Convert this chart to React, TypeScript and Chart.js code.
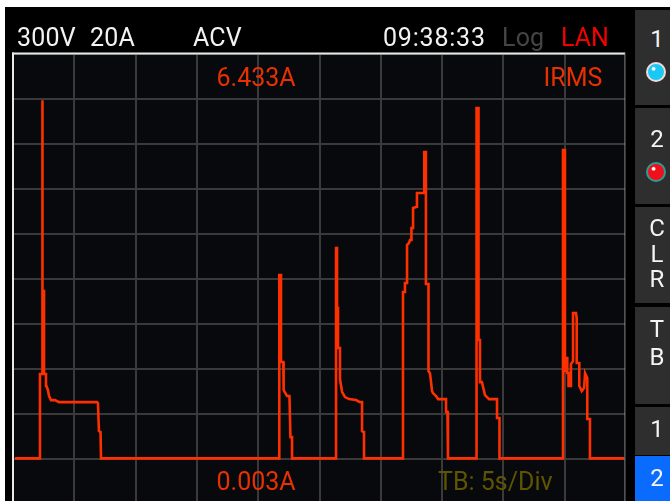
import React, { useEffect, useRef } from "react";
import { Chart, registerables } from "chart.js";

Chart.register(...registerables);

const pulse1 = [
  [0.16, 0.003], [2.2, 0.003], [2.2, 1.516], [2.37, 1.516], [2.37, 6.433], [2.42, 6.433], [2.42, 3.007], [2.53, 3.007], [2.53, 1.516], [2.69, 1.516], [2.69, 1.301], [2.73, 1.301],
  [2.85, 1.229], [2.94, 1.121], [3.1, 1.049], [3.43, 1.049], [3.75, 1.013], [6.85, 1.013], [6.93, 0.995], [7.01, 0.492], [7.14, 0.474], [7.18, 0.003],
];
const pulse2 = [
  [21.72, 0.003], [21.72, 3.294], [21.86, 3.294], [21.86, 1.732], [22.05, 1.732], [22.05, 1.283], [22.1, 1.229], [22.35, 1.121], [22.55, 1.121], [22.63, 0.384], [22.76, 0.384], [22.76, 0.003],
];
const pulse3 = [
  [26.35, 0.003], [26.35, 3.779], [26.43, 3.779], [26.43, 2.702], [26.51, 2.702], [26.51, 1.983], [26.67, 1.983], [26.67, 1.426], [26.84, 1.198], [27.08, 1.103], [27.41, 1.067],
  [27.98, 1.049], [28.3, 1.013], [28.47, 1.013], [28.47, 0.492], [28.59, 0.474], [28.63, 0.474], [28.63, 0.003],
];
const pulse4 = [
  [31.81, 0.003], [31.81, 2.989], [31.97, 2.989], [31.97, 3.151], [32.14, 3.151], [32.14, 3.833], [32.3, 3.87], [32.38, 3.923], [32.5, 3.923], [32.5, 4.139], [32.63, 4.139], [32.63, 4.498],
  [32.95, 4.521], [32.95, 4.767], [33.55, 4.767], [33.55, 5.504], [33.68, 5.504], [33.68, 3.133], [33.89, 3.133], [33.89, 1.57], [34.01, 1.53], [34.09, 1.39], [34.18, 1.211], [34.26, 1.175],
  [34.5, 1.121], [34.67, 1.067], [35.32, 1.067], [35.32, 0.839], [35.44, 0.839], [35.48, 0.003],
];
const pulse5 = [
  [37.81, 0.003], [37.81, 6.294], [37.97, 6.294], [37.97, 2.127], [38.09, 2.127], [38.09, 1.372], [38.25, 1.372], [38.34, 1.283], [38.5, 1.139], [38.83, 1.067], [39.48, 1.067], [39.48, 0.726],
  [39.68, 0.726], [39.68, 0.003],
];
const pulse6 = [
  [44.86, 0.003], [44.86, 5.54], [45.02, 5.54], [45.02, 1.552], [45.11, 1.803], [45.21, 1.803], [45.21, 1.534], [45.31, 1.534], [45.31, 1.301], [45.51, 1.301], [45.51, 1.696], [45.68, 1.75],
  [45.68, 2.612], [45.92, 2.612], [45.98, 2.522], [45.98, 1.714], [46.19, 1.714], [46.19, 1.301], [46.39, 1.211], [46.58, 1.265], [46.66, 1.534], [46.84, 1.444], [46.84, 0.708], [47.06, 0.708],
  [47.06, 0.003], [49.84, 0.003],
];

const timeGrid = [0, 5, 10, 15, 20, 25, 30, 35, 40, 45, 50];
const ampGrid = [-0.808, 0, 0.808, 1.616, 2.424, 3.232, 4.04, 4.848, 5.656, 6.464, 7.272];

const headerLabels = [
  { text: "300V", x: 17, y: 24, color: "#f2f2f2", sp: 0.2 },
  { text: "20A", x: 90, y: 24, color: "#f2f2f2", sp: 0.2 },
  { text: "ACV", x: 193, y: 24, color: "#f2f2f2", sp: 0.2 },
  { text: "09:38:33", x: 383, y: 24, color: "#f2f2f2", sp: 0.8 },
  { text: "Log", x: 502, y: 24, color: "#454545", sp: 0.2 },
  { text: "LAN", x: 561, y: 24, color: "#f50000", sp: 0 },
  { text: "6.433A", x: 216.5, y: 64, color: "#e83000", sp: 0 },
  { text: "IRMS", x: 543.5, y: 64, color: "#e83000", sp: 0 },
  { text: "0.003A", x: 216.5, y: 468, color: "#e83000", sp: 0 },
  { text: "TB: 5s/Div", x: 438, y: 468, color: "#5f5400", sp: 0 },
];

const softKeys = [
  { lines: ["1"], top: 10, height: 95, bg: "#2e2e2e", pad: 16, lh: 26, dot: "#19c8f5", ring: "#f0dcd4", dotTop: 52 },
  { lines: ["2"], top: 108, height: 96, bg: "#2e2e2e", pad: 18, lh: 26, dot: "#f0101c", ring: "#2f9c94", dotTop: 54 },
  { lines: ["C", "L", "R"], top: 207, height: 96, bg: "#2e2e2e", pad: 9, lh: 25.5 },
  { lines: ["T", "B"], top: 307, height: 97, bg: "#2e2e2e", pad: 8, lh: 28 },
  { lines: ["1"], top: 407, height: 48, bg: "#2e2e2e", pad: 9, lh: 26 },
  { lines: ["2"], top: 456, height: 45, bg: "#0a6cff", pad: 9, lh: 26 },
];

const FONT = "Roboto, sans-serif";

const plotFrame = {
  id: "plotFrame",
  beforeDraw(chart: any) {
    const { ctx, chartArea: a } = chart;
    ctx.save();
    ctx.fillStyle = "#08090d";
    ctx.fillRect(a.left, a.top, a.right - a.left, a.bottom - a.top);
    ctx.restore();
  },
  afterDraw(chart: any) {
    const { ctx, chartArea: a } = chart;
    ctx.save();
    ctx.fillStyle = "#e8e8e8";
    ctx.fillRect(a.left - 1, a.top - 1, 2, 504 - a.top);
    ctx.fillRect(a.left - 1, a.top - 1, a.right - a.left, 2);
    ctx.fillStyle = "#9a9a9a";
    ctx.fillRect(a.right - 1.5, a.top - 1, 1, 504 - a.top);
    ctx.fillStyle = "#000";
    ctx.fillRect(a.right - 0.5, a.top - 1, 2, 504 - a.top);
    ctx.restore();
  },
};

export default function App() {
  const ref = useRef<HTMLCanvasElement>(null);

  useEffect(() => {
    if (!ref.current) return;
    const trace = [...pulse1, ...pulse2, ...pulse3, ...pulse4, ...pulse5, ...pulse6];
    const chart = new Chart(ref.current, {
      type: "scatter",
      data: {
        datasets: [
          {
            data: trace.map(([x, y]) => ({ x, y })),
            showLine: true,
            borderColor: "#ff3000",
            borderWidth: 2.6,
            pointRadius: 0,
            tension: 0,
            borderJoinStyle: "miter",
          },
        ],
      },
      plugins: [plotFrame],
      options: {
        responsive: false,
        animation: false,
        layout: { padding: { left: 13, right: 44, top: 53.5, bottom: 0.5 } },
        plugins: { legend: { display: false }, tooltip: { enabled: false } },
        scales: {
          x: {
            type: "linear",
            min: 0,
            max: 50,
            afterBuildTicks: (s: any) => {
              s.ticks = timeGrid.map((value) => ({ value }));
            },
            ticks: { display: false },
            border: { display: false },
            grid: { color: "#3a3a3a", lineWidth: 2, drawTicks: false },
          },
          y: {
            type: "linear",
            min: ampGrid[0],
            max: ampGrid[ampGrid.length - 1],
            afterBuildTicks: (s: any) => {
              s.ticks = ampGrid.map((value) => ({ value }));
            },
            ticks: { display: false },
            border: { display: false },
            grid: { color: "#3a3a3a", lineWidth: 2, drawTicks: false },
          },
        },
      },
    } as any);
    return () => chart.destroy();
  }, []);

  return (
    <div style={{ position: "fixed", left: 0, top: 0, width: 670, height: 501, overflow: "hidden", background: "#fff", fontFamily: FONT }}>
      <div style={{ position: "absolute", left: 5, top: 7, width: 665, height: 494, background: "#000" }} />
      <canvas ref={ref} width={670} height={504} style={{ position: "absolute", left: 0, top: 0, width: 670, height: 504 }} />
      {headerLabels.map((l) => (
        <span
          key={l.text + l.x}
          style={{ position: "absolute", left: l.x, top: l.y, fontSize: 25, lineHeight: "28px", fontWeight: 400, letterSpacing: l.sp, color: l.color, whiteSpace: "pre" }}
        >
          {l.text}
        </span>
      ))}
      {softKeys.map((k) => (
        <div key={k.top} style={{ position: "absolute", left: 635, top: k.top, width: 35, height: k.height, background: k.bg, color: "#f4f4f4", fontSize: 24, textAlign: "center" }}>
          <div style={{ paddingLeft: 9, paddingTop: k.pad, lineHeight: `${k.lh}px` }}>
            {k.lines.map((line) => (
              <div key={line}>{line}</div>
            ))}
          </div>
          {k.dot && (
            <div
              style={{
                position: "absolute",
                left: 11,
                top: k.dotTop,
                width: 16,
                height: 16,
                borderRadius: "50%",
                background: `radial-gradient(circle at 35% 30%, #ffffff 0 8%, ${k.dot} 16%)`,
                border: `2px solid ${k.ring}`,
              }}
            />
          )}
        </div>
      ))}
    </div>
  );
}
